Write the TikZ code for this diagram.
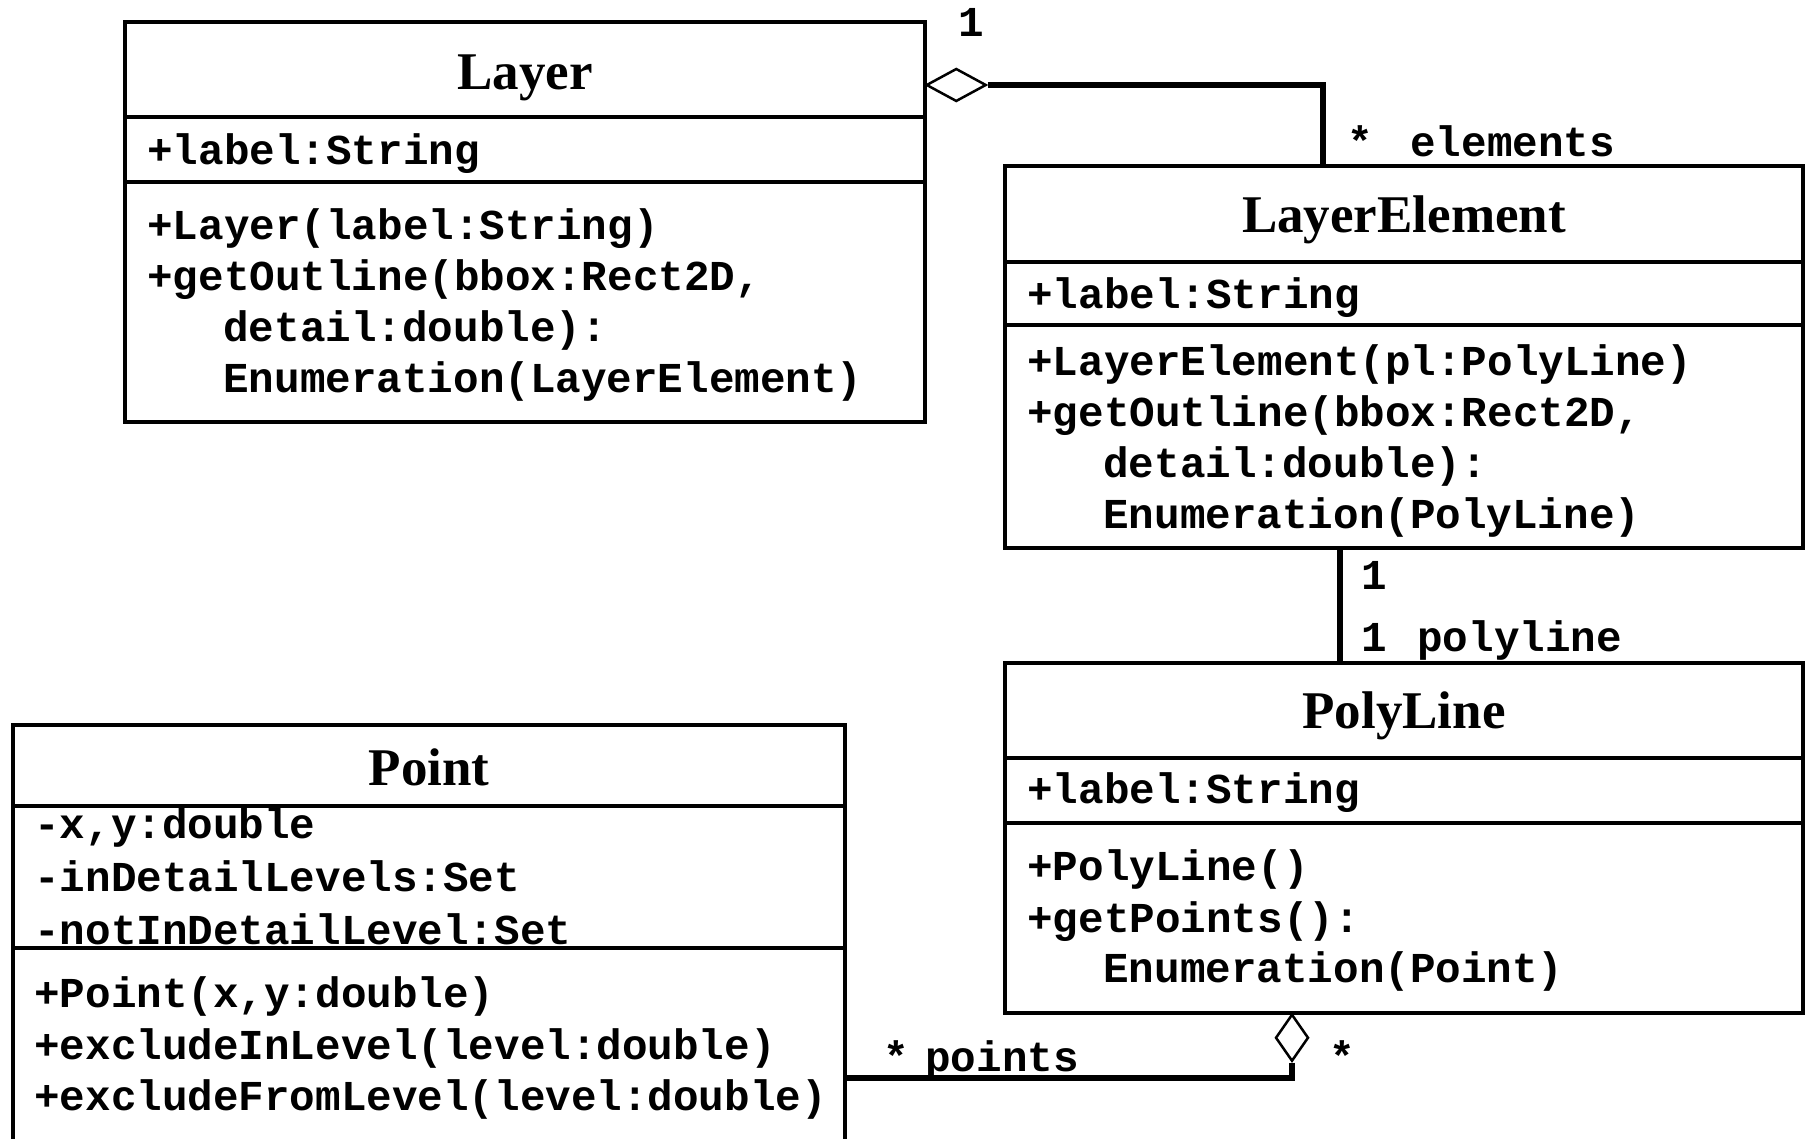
\documentclass[tikz,border=0pt]{standalone}
\usepackage{fontspec}
\setmainfont{Liberation Serif}
\setmonofont{Liberation Mono}
\usetikzlibrary{fit,shapes.geometric}

\tikzset{
  compart/.style={draw, line width=2pt, inner sep=0pt},
  classname/.style={font=\rmfamily\bfseries\fontsize{26.5}{30}\selectfont, anchor=base, inner sep=0pt},
  member/.style={font=\ttfamily\bfseries\fontsize{21.3}{25}\selectfont, anchor=base west, inner sep=0pt},
  multc/.style={font=\ttfamily\bfseries\fontsize{21.3}{25}\selectfont, anchor=base, inner sep=0pt},
  link/.style={line width=3pt},
  vlink/.style={line width=2.75pt},
  aggr/.style={diamond, draw, fill=white, line width=1.25pt, inner sep=0pt},
}

\begin{document}
\begin{tikzpicture}[x=0.5pt, y=-0.5pt]
\useasboundingbox (0,0) rectangle (1805,1139);
\clip (0,0) rectangle (1805,1139);

% ---------- class Layer ----------
\node[compart, fit={(125,22) (925,117)}]  (layerT) {};
\node[compart, fit={(125,117) (925,182)}] (layerA) {};
\node[compart, fit={(125,182) (925,422)}] (layerM) {};
\node[classname] (layerName) at (525,90) {Layer};
\node[member] (layerA1) at (147,164.5) {+label:String};
\node[member] (layerM1) at (147,239.5) {+Layer(label:String)};
\node[member] (layerM2) at (147,290.5) {+getOutline(bbox:Rect2D,};
\node[member] (layerM3) at (223,341.5) {detail:double):};
\node[member] (layerM4) at (223,392.5) {Enumeration(LayerElement)};

% ---------- class LayerElement ----------
\node[compart, fit={(1005,166) (1803,262)}] (elemT) {};
\node[compart, fit={(1005,262) (1803,325)}] (elemA) {};
\node[compart, fit={(1005,325) (1803,548)}] (elemM) {};
\node[classname] (elemName) at (1404,233) {LayerElement};
\node[member] (elemA1) at (1027,309) {+label:String};
\node[member] (elemM1) at (1027,375) {+LayerElement(pl:PolyLine)};
\node[member] (elemM2) at (1027,426) {+getOutline(bbox:Rect2D,};
\node[member] (elemM3) at (1103,477) {detail:double):};
\node[member] (elemM4) at (1103,528) {Enumeration(PolyLine)};

% ---------- class PolyLine ----------
\node[compart, fit={(1005,663) (1803,758)}]  (polyT) {};
\node[compart, fit={(1005,758) (1803,823)}]  (polyA) {};
\node[compart, fit={(1005,823) (1803,1013)}] (polyM) {};
\node[classname] (polyName) at (1404,728) {PolyLine};
\node[member] (polyA1) at (1027,803) {+label:String};
\node[member] (polyM1) at (1027,880) {+PolyLine()};
\node[member] (polyM2) at (1027,932) {+getPoints():};
\node[member] (polyM3) at (1103,982) {Enumeration(Point)};

% ---------- class Point ----------
\node[compart, fit={(13,725) (845,806)}]  (pointT) {};
\node[compart, fit={(13,806) (845,948)}]  (pointA) {};
\node[compart, fit={(13,948) (845,1170)}] (pointM) {};
\node[classname] (pointName) at (429,785) {Point};
\node[member] (pointA1) at (34,838) {-x,y:double};
\node[member] (pointA2) at (34,891) {-inDetailLevels:Set};
\node[member] (pointA3) at (34,944) {-notInDetailLevel:Set};
\node[member] (pointM1) at (34,1007) {+Point(x,y:double)};
\node[member] (pointM2) at (34,1059) {+excludeInLevel(level:double)};
\node[member] (pointM3) at (34,1110) {+excludeFromLevel(level:double)};

% ---------- associations ----------
% Layer <>-- LayerElement
\node[aggr, minimum width=30pt, minimum height=16.5pt, anchor=west] (aggLayer) at (925,85) {};
\coordinate (elemJoin) at (1323,166);
\draw[link] (aggLayer.east) -| (elemJoin);
\node[multc] (mLayer) at (971.5,37) {1};
\node[multc] (mElemStar) at (1360,157) {*};
\node[member] (roleElements) at (1410,157) {elements};

% LayerElement -- PolyLine
\coordinate (elemBottom) at (1340,548);
\coordinate (polyTop) at (1340,663);
\draw[vlink] (elemBottom) -- (polyTop);
\node[multc] (mElemOne) at (1374.5,589) {1};
\node[multc] (mPolyOne) at (1374.5,651) {1};
\node[member] (rolePolyline) at (1417,651) {polyline};

% PolyLine <>-- Point
\node[aggr, minimum width=16.5pt, minimum height=23.5pt, anchor=north] (aggPoly) at (1292,1013) {};
\coordinate (pointJoin) at (845,1078);
\draw[link] (aggPoly.south) |- (pointJoin);
\node[multc] (mPointStar) at (896,1071) {*};
\node[member] (rolePoints) at (925,1071) {points};
\node[multc] (mPolyStar) at (1342,1071) {*};

\end{tikzpicture}
\end{document}
